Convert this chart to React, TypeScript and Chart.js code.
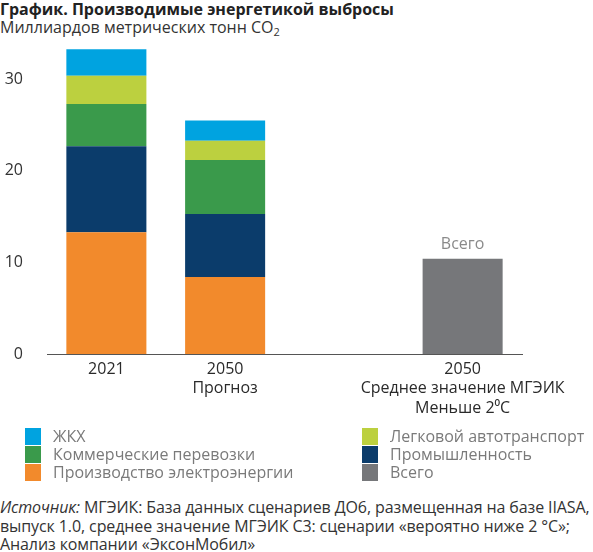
import React, { useEffect, useRef } from "react";
import { Chart, registerables } from "chart.js";

Chart.register(...registerables);

const titleText = "График. Производимые энергетикой выбросы";
const subtitleText = "Миллиардов метрических тонн CO";
const subtitleSub = "2";

const categories: string[][] = [
  ["2021"],
  ["2050", "Прогноз"],
  [""],
  ["2050", "Среднее значение МГЭИК", "Меньше 2⁰C"],
];

const power = [13.3, 8.4, null, null];
const industry = [9.4, 6.9, null, null];
const commercial = [4.6, 5.9, null, null];
const passenger = [3.1, 2.1, null, null];
const residential = [2.9, 2.2, null, null];
const total = [null, null, null, 10.4];

const yTicks = [0, 10, 20, 30];
const yMax = 35;
const totalLabel = "Всего";

const seriesLabels = [
  "Производство электроэнергии",
  "Промышленность",
  "Коммерческие перевозки",
  "Легковой автотранспорт",
  "ЖКХ",
  "Всего",
];
const seriesColors = ["#F28A2C", "#0B3C6B", "#3A9A4B", "#BCD03F", "#00A3E0", "#76777A"];

const legendCol1 = [4, 2, 0];
const legendCol2 = [3, 1, 5];

const sourceLines = [
  "МГЭИК: База данных сценариев ДО6, размещенная на базе IIASA,",
  "выпуск 1.0, среднее значение МГЭИК С3: сценарии «вероятно ниже 2 °C»;",
  "Анализ компании «ЭксонМобил»",
];

const FONT = '"Open Sans", "Noto Sans", sans-serif';
const CANVAS_H = 432;
const AXIS_BOTTOM = 354;

const totalLabelPlugin = {
  id: "totalLabel",
  afterDatasetsDraw(chart: any) {
    const meta = chart.getDatasetMeta(5);
    const ctx = chart.ctx;
    meta.data.forEach((el: any, i: number) => {
      if (total[i] == null) return;
      ctx.save();
      ctx.font = `16px ${FONT}`;
      ctx.fillStyle = "#8a8a8a";
      ctx.textAlign = "center";
      ctx.textBaseline = "middle";
      ctx.fillText(totalLabel, el.x, el.y - 14);
      ctx.restore();
    });
  },
};

function ChartCanvas() {
  const ref = useRef<HTMLCanvasElement | null>(null);
  useEffect(() => {
    let chart: Chart | null = null;
    let cancelled = false;
    const make = () => {
      if (cancelled || !ref.current) return;
      const data = [power, industry, commercial, passenger, residential, total];
      chart = new Chart(ref.current, {
        type: "bar",
        data: {
          labels: categories,
          datasets: data.map((d, i) => ({
            label: seriesLabels[i],
            data: d,
            backgroundColor: seriesColors[i],
            borderWidth: 0,
            categoryPercentage: 1,
            barPercentage: 0.674,
          })),
        },
        options: {
          animation: false,
          responsive: false,
          maintainAspectRatio: false,
          layout: { padding: { top: 33, right: 71, left: 0, bottom: 0 } },
          plugins: {
            legend: { display: false },
            tooltip: { enabled: false },
            title: { display: false },
          },
          scales: {
            x: {
              stacked: true,
              grid: { display: false, drawTicks: false },
              border: { display: true, color: "#555555", width: 1 },
              ticks: {
                color: "#2a2a2a",
                padding: 6,
                maxRotation: 0,
                autoSkip: false,
                font: { family: FONT, size: 16, lineHeight: 1.2 },
              },
              afterFit(scale: any) {
                scale.height = CANVAS_H - AXIS_BOTTOM;
              },
            },
            y: {
              stacked: true,
              min: 0,
              max: yMax,
              grid: { display: false, drawTicks: false },
              border: { display: false },
              ticks: {
                color: "#333333",
                padding: 24,
                font: { family: FONT, size: 16 },
              },
              afterBuildTicks(scale: any) {
                scale.ticks = yTicks.map((v) => ({ value: v }));
              },
              afterFit(scale: any) {
                scale.width = 47;
              },
            },
          },
        },
        plugins: [totalLabelPlugin],
      });
    };
    const fonts: any = (document as any).fonts;
    if (fonts && fonts.load) {
      Promise.all([
        fonts.load(`16px "Open Sans"`),
        fonts.load(`bold 16px "Open Sans"`),
        fonts.load(`italic 16px "Open Sans"`),
      ])
        .catch(() => null)
        .then(make);
    } else {
      make();
    }
    return () => {
      cancelled = true;
      if (chart) chart.destroy();
    };
  }, []);
  return (
    <canvas
      ref={ref}
      width={593}
      height={CANVAS_H}
      style={{ position: "absolute", left: 0, top: 0, width: 593, height: CANVAS_H }}
    />
  );
}

function LegendItem({ idx, x, y }: { idx: number; x: number; y: number }) {
  return (
    <div style={{ position: "absolute", left: x, top: y, height: 18, display: "flex", alignItems: "center" }}>
      <div style={{ width: 16, height: 17, background: seriesColors[idx], marginRight: 12 }} />
      <span style={{ fontSize: 16, lineHeight: "18px", color: "#7a7a7a", whiteSpace: "nowrap" }}>
        {seriesLabels[idx]}
      </span>
    </div>
  );
}

export default function App() {
  return (
    <div
      style={{
        position: "absolute",
        left: 0,
        top: 0,
        width: 593,
        height: 552,
        background: "#ffffff",
        fontFamily: FONT,
        overflow: "hidden",
      }}
    >
      <div
        style={{
          position: "absolute",
          left: 0,
          top: 0,
          fontSize: 16,
          lineHeight: "19px",
          fontWeight: 700,
          color: "#222222",
          whiteSpace: "nowrap",
        }}
      >
        {titleText}
      </div>
      <div
        style={{
          position: "absolute",
          left: 0,
          top: 18,
          fontSize: 16,
          lineHeight: "19px",
          color: "#333333",
          whiteSpace: "nowrap",
        }}
      >
        {subtitleText}
        <sub style={{ fontSize: 11, verticalAlign: "-3px", lineHeight: 0 }}>{subtitleSub}</sub>
      </div>
      <ChartCanvas />
      {legendCol1.map((idx, r) => (
        <LegendItem key={"a" + idx} idx={idx} x={25} y={427 + r * 18} />
      ))}
      {legendCol2.map((idx, r) => (
        <LegendItem key={"b" + idx} idx={idx} x={362} y={427 + r * 18} />
      ))}
      <div
        style={{
          position: "absolute",
          left: 0,
          top: 498,
          fontSize: 16,
          lineHeight: "18.5px",
          letterSpacing: "-0.1px",
          color: "#333333",
          whiteSpace: "nowrap",
        }}
      >
        <div>
          <i>Источник:</i> {sourceLines[0]}
        </div>
        <div>{sourceLines[1]}</div>
        <div>{sourceLines[2]}</div>
      </div>
    </div>
  );
}
